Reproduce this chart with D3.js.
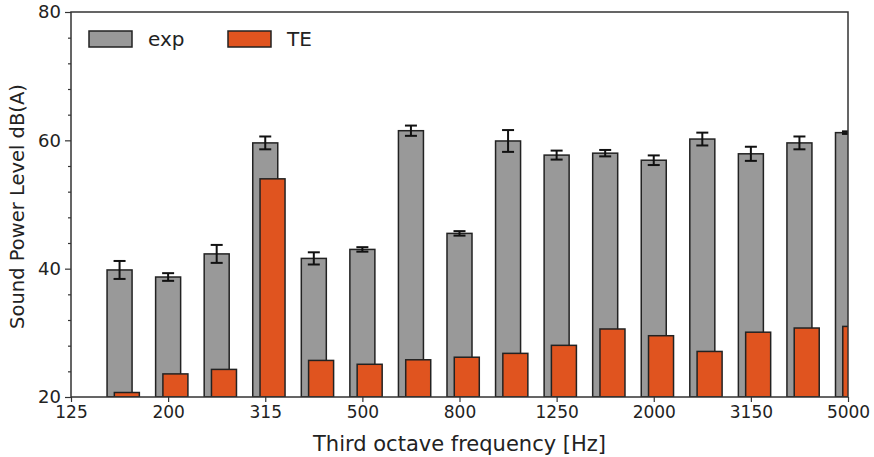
<!DOCTYPE html>
<html>
<head>
<meta charset="utf-8">
<script src="https://cdn.jsdelivr.net/npm/d3@7"></script>
<style>
  body { margin: 0; background: #fff; }
  svg { display: block; }
  text { font-family: "DejaVu Sans", sans-serif; fill: #222; }
</style>
</head>
<body>
<div id="chart"></div>
<script>
// ---- data ----
const bands = ["125","160","200","250","315","400","500","630","800","1000","1250","1600","2000","2500","3150","4000","5000"];
const barBands = ["160","200","250","315","400","500","630","800","1000","1250","1600","2000","2500","3150","4000","5000"];
const expValues = [39.8, 38.7, 42.3, 59.6, 41.6, 43.0, 61.5, 45.5, 59.9, 57.7, 58.0, 56.9, 60.2, 57.9, 59.6, 61.2];
const expErrors = [1.4, 0.6, 1.4, 1.0, 0.95, 0.35, 0.8, 0.35, 1.7, 0.7, 0.5, 0.75, 1.0, 1.1, 1.0, 0.2];
const teValues  = [20.7, 23.6, 24.3, 54.0, 25.7, 25.1, 25.8, 26.2, 26.8, 28.05, 30.6, 29.55, 27.1, 30.1, 30.75, 31.0];
const xTickLabels = ["125","200","315","500","800","1250","2000","3150","5000"];
const yTicks = [20, 40, 60, 80];
const yMinorTicks = d3.range(20, 81, 4);
const seriesNames = ["exp", "TE"];
const colors = {exp: "#999999", TE: "#e0541f"};

// ---- layout ----
const W = 874, H = 457;
const margin = {left: 71, right: 26, top: 12, bottom: 60};
const iw = W - margin.left - margin.right;
const ih = H - margin.top - margin.bottom;

const svg = d3.select("#chart").append("svg").attr("width", W).attr("height", H);
const g = svg.append("g").attr("transform", `translate(${margin.left},${margin.top})`);

const x = d3.scalePoint().domain(bands).range([0, iw]);
const step = x.step();
const y = d3.scaleLinear().domain([20, 80]).range([ih, 0]);

const barW = step * 0.515;
const teOffset = step * 0.15;

g.append("clipPath").attr("id", "clip")
  .append("rect").attr("x", 0).attr("y", -2).attr("width", iw).attr("height", ih + 2);

const plot = g.append("g").attr("clip-path", "url(#clip)");

// exp bars
plot.selectAll("rect.exp").data(barBands).enter().append("rect")
  .attr("class", "exp")
  .attr("x", d => x(d) - barW / 2)
  .attr("y", (d, i) => y(expValues[i]))
  .attr("width", barW)
  .attr("height", (d, i) => y(20) - y(expValues[i]))
  .attr("fill", colors.exp)
  .attr("stroke", "#222").attr("stroke-width", 1.5);

// error bars
const eb = plot.selectAll("g.err").data(barBands).enter().append("g").attr("class", "err")
  .attr("stroke", "#111").attr("stroke-width", 2);
eb.append("line")
  .attr("x1", d => x(d)).attr("x2", d => x(d))
  .attr("y1", (d, i) => y(expValues[i] + expErrors[i]))
  .attr("y2", (d, i) => y(expValues[i] - expErrors[i]));
eb.append("line")
  .attr("x1", d => x(d) - 6).attr("x2", d => x(d) + 6)
  .attr("y1", (d, i) => y(expValues[i] + expErrors[i]))
  .attr("y2", (d, i) => y(expValues[i] + expErrors[i]));
eb.append("line")
  .attr("x1", d => x(d) - 6).attr("x2", d => x(d) + 6)
  .attr("y1", (d, i) => y(expValues[i] - expErrors[i]))
  .attr("y2", (d, i) => y(expValues[i] - expErrors[i]));

// TE bars
plot.selectAll("rect.te").data(barBands).enter().append("rect")
  .attr("class", "te")
  .attr("x", d => x(d) - barW / 2 + teOffset)
  .attr("y", (d, i) => y(teValues[i]))
  .attr("width", barW)
  .attr("height", (d, i) => y(20) - y(teValues[i]))
  .attr("fill", colors.TE)
  .attr("stroke", "#222").attr("stroke-width", 1.5);

// axes
const xAxis = d3.axisBottom(x).tickValues(xTickLabels).tickSize(5).tickPadding(4);
const gx = g.append("g").attr("transform", `translate(0,${ih})`).call(xAxis);
gx.selectAll("text").attr("font-size", 17).attr("font-family", "'DejaVu Sans', sans-serif");

const gy = g.append("g").call(d3.axisLeft(y).tickValues(yTicks).tickSize(6).tickPadding(4));
gy.selectAll("text").attr("font-size", 18).attr("font-family", "'DejaVu Sans', sans-serif");
g.append("g").call(d3.axisLeft(y).tickValues(yMinorTicks.filter(v => !yTicks.includes(v))).tickSize(3).tickFormat(""));

g.selectAll(".domain").attr("stroke", "none");
g.selectAll(".tick line").attr("stroke", "#333").attr("stroke-width", 1.2);

// frame
g.append("rect").attr("x", 0).attr("y", 0).attr("width", iw).attr("height", ih)
  .attr("fill", "none").attr("stroke", "#333").attr("stroke-width", 1.5);

// axis titles
svg.append("text")
  .attr("x", margin.left + iw / 2).attr("y", H - 6)
  .attr("text-anchor", "middle").attr("font-size", 21)
  .text("Third octave frequency [Hz]");

svg.append("text")
  .attr("transform", `translate(24,${margin.top + ih / 2 + 2}) rotate(-90)`)
  .attr("text-anchor", "middle").attr("font-size", 19.5)
  .text("Sound Power Level dB(A)");

// legend
const legend = g.append("g");
const legendX = [18, 157];
seriesNames.forEach((s, i) => {
  const lg = legend.append("g").attr("transform", `translate(${legendX[i]},19)`);
  lg.append("rect").attr("width", 43).attr("height", 16)
    .attr("fill", colors[s]).attr("stroke", "#222").attr("stroke-width", 1.5);
  lg.append("text").attr("x", 59).attr("y", 15).attr("font-size", 20).text(s);
});
</script>
</body>
</html>
